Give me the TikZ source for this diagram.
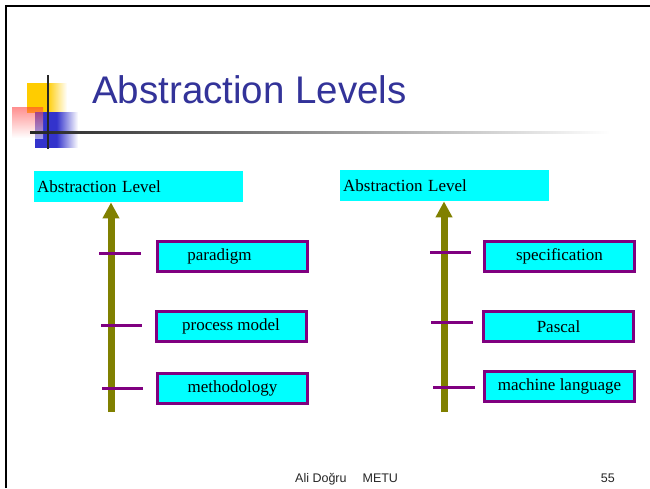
\documentclass[tikz,border=0pt]{standalone}
\usepackage{fontspec}
\setmainfont{Liberation Serif}
\newfontfamily\slidesf{Liberation Sans}
\usetikzlibrary{arrows.meta}
\definecolor{titleblue}{HTML}{333399}
\definecolor{lvlpurple}{HTML}{800080}
\definecolor{lvlolive}{HTML}{808000}
\definecolor{lvlcyan}{HTML}{00FFFF}
\definecolor{decoyellow}{HTML}{FFCC00}
\definecolor{decoblue}{HTML}{3333CC}
\tikzset{
  header/.style={fill=lvlcyan, minimum width=209pt, minimum height=31pt, inner sep=3pt,
    text width=203pt, align=left, font=\fontsize{17}{20}\selectfont},
  lvlbox/.style={draw=lvlpurple, line width=3pt, fill=lvlcyan, minimum width=150pt,
    minimum height=30pt, inner sep=0pt, font=\fontsize{17}{20}\selectfont},
  levelarrow/.style={draw=lvlolive, line width=7pt, -{Triangle[width=16pt,length=16pt]}},
  lvltick/.style={draw=lvlpurple, line width=3pt},
}
\begin{document}
\begin{tikzpicture}[x=1pt,y=-1pt]
\useasboundingbox (0,0) rectangle (650,488);
% slide frame
\draw[line width=2.5pt] (6,488) -- (6,6) -- (650,6);
% title decoration
\shade[left color=decoyellow, right color=white, middle color=decoyellow] (27,83) rectangle (67,112);
\shade[left color=decoblue, right color=white, middle color=decoblue] (35,112) rectangle (78,147);
\shade[top color=red!80, bottom color=white, opacity=0.55] (12,107) rectangle (43,138);
\shade[left color=black!85, right color=white] (30,131) rectangle (610,133.5);
\draw[line width=2.5pt, black!85] (48,75) -- (48,149);
\node[anchor=base west, inner sep=0pt, text=titleblue, font=\slidesf\fontsize{38.5}{44}\selectfont]
  (title) at (92,103) {Abstraction Levels};
% left column
\node[header, anchor=north west] (hdrL) at (34,171) {Abstraction Level};
\coordinate (baseL) at (111,412);
\draw[levelarrow] (baseL) -- (baseL |- hdrL.south);
\node[lvlbox] (par) at (232.5,256.5) {\hspace*{-26pt}paradigm};
\node[lvlbox] (proc) at (231,326.5) {process model};
\node[lvlbox] (meth) at (232.5,388) {methodology};
\draw[lvltick] (99,253) -- (141,253);
\draw[lvltick] (101,325) -- (142,325);
\draw[lvltick] (102,388) -- (143,388);
% right column
\node[header, anchor=north west] (hdrR) at (340,170) {Abstraction Level};
\coordinate (baseR) at (444,412);
\draw[levelarrow] (baseR) -- (baseR |- hdrR.south);
\node[lvlbox] (spec) at (559.5,256.5) {specification};
\node[lvlbox] (pasc) at (558.5,326.5) {Pascal};
\node[lvlbox] (mach) at (559.5,386) {machine language};
\draw[lvltick] (430,252) -- (471,252);
\draw[lvltick] (431,322) -- (473,322);
\draw[lvltick] (433,387) -- (475,387);
% footer
\node[anchor=base west, inner sep=0pt, text=black!85, font=\slidesf\fontsize{12.5}{15}\selectfont]
  (author) at (295,482) {Ali Doğru\hspace{16pt}METU};
\node[anchor=base east, inner sep=0pt, text=black!85, font=\slidesf\fontsize{12.5}{15}\selectfont]
  (pageno) at (615,482) {55};
\end{tikzpicture}
\end{document}
